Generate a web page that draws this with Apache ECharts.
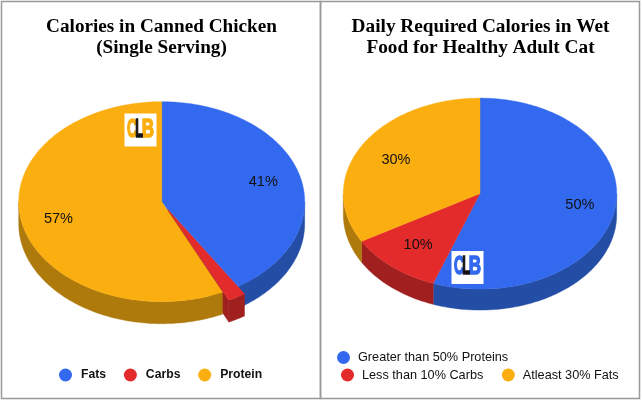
<!DOCTYPE html>
<html>
<head>
<meta charset="utf-8">
<style>
  html, body { margin: 0; padding: 0; background: #fff; }
  #chart { width: 643px; height: 400px; }
</style>
<script src="https://cdn.jsdelivr.net/npm/echarts@6/dist/echarts.min.js"></script>
</head>
<body>
<div id="chart"></div>
<script>
// chart values
var leftCategories = ["Fats", "Carbs", "Protein"];
var leftValues = [41, 2, 57];
var rightCategories = ["Greater than 50% Proteins", "Less than 10% Carbs", "Atleast 30% Fats"];
var rightValues = [50, 10, 30];

// colours, same order for both pies
var topColors = ["#3369ee", "#e42b2b", "#fbae0f"];
var sideColors = ["#244ea6", "#a01f1f", "#ad7a0b"];

// pie geometry on the page
var leftPie = { cx: 161.7, cy: 201.7, rx: 143, ry: 100, depth: 22, explode: [0, 0.09, 0], labelRx: 0.74, labelRy: 0.74, labelDx: 0, labelDy: 0.8 };
var rightPie = { cx: 480, cy: 193.6, rx: 136.7, ry: 95.5, depth: 21, explode: [0, 0, 0], labelRx: 0.727, labelRy: 0.7, labelDx: 2, labelDy: 0 };

function total(values) {
  return values.reduce(function (a, b) { return a + b; }, 0);
}

// angle is clockwise from 12 o'clock, in degrees
function ellipsePoint(pie, deg, dx, dy, down) {
  var a = deg * Math.PI / 180;
  return [pie.cx + dx + pie.rx * Math.sin(a), pie.cy + dy - pie.ry * Math.cos(a) + (down || 0)];
}

function arcPoints(pie, from, to, dx, dy, down) {
  var pts = [];
  var steps = Math.max(2, Math.ceil(to - from));
  for (var i = 0; i <= steps; i++) {
    pts.push(ellipsePoint(pie, from + (to - from) * i / steps, dx, dy, down));
  }
  return pts;
}

function poly(points, color) {
  return {
    type: "polygon",
    shape: { points: points },
    style: { fill: color, stroke: color, lineWidth: 0.4 },
    silent: true
  };
}

function sliceSeries(pie, categories, values, idx) {
  var sum = total(values);
  var before = 0;
  for (var i = 0; i < idx; i++) before += values[i];

  return {
    type: "custom",
    name: categories[idx],
    coordinateSystem: "none",
    itemStyle: { color: topColors[idx] },
    data: [values[idx]],
    renderItem: function (params, api) {
      var value = api.value(0);
      var start = before / sum * 360;
      var end = start + value / sum * 360;
      var mid = (start + end) / 2;
      var midRad = mid * Math.PI / 180;
      var k = pie.explode[idx];
      var dx = pie.rx * Math.sin(midRad) * k;
      var dy = -pie.ry * Math.cos(midRad) * k;
      var children = [];

      // exploded slice leaves a sliver at the hub, fill it with the slice before
      if (k > 0) {
        children.push(poly([[pie.cx, pie.cy]].concat(arcPoints(pie, start, end, 0, 0)), topColors[idx - 1]));
        var c0 = [pie.cx + dx, pie.cy + dy];
        var c1 = ellipsePoint(pie, end, dx, dy);
        children.push(poly([c0, c1, [c1[0], c1[1] + pie.depth], [c0[0], c0[1] + pie.depth]], sideColors[idx]));
      }

      // only the front half of the rim shows
      var wallFrom = Math.max(start, 90);
      var wallTo = Math.min(end, 270);
      if (wallTo > wallFrom) {
        var upper = arcPoints(pie, wallFrom, wallTo, dx, dy);
        var lower = arcPoints(pie, wallFrom, wallTo, dx, dy, pie.depth).reverse();
        children.push(poly(upper.concat(lower), sideColors[idx]));
      }

      children.push(poly([[pie.cx + dx, pie.cy + dy]].concat(arcPoints(pie, start, end, dx, dy)), topColors[idx]));

      // the tiny slice has no label in the picture
      if (value / sum > 0.05) {
        children.push({
          type: "text",
          x: pie.cx + pie.labelDx + pie.rx * pie.labelRx * Math.sin(midRad),
          y: pie.cy + pie.labelDy - pie.ry * pie.labelRy * Math.cos(midRad),
          silent: true,
          style: {
            text: value + "%",
            fontFamily: "Liberation Sans",
            fontSize: 14.5,
            fill: "#111",
            align: "center",
            verticalAlign: "middle"
          }
        });
      }
      return { type: "group", children: children };
    }
  };
}

function logo(x, y, color) {
  function letter(ch, lx, sx, fill, z) {
    return {
      type: "text",
      z: z,
      x: x + lx,
      y: y + 16.5,
      scaleX: sx,
      style: {
        text: ch,
        fontFamily: "Liberation Sans",
        fontSize: 25,
        fontWeight: "bold",
        fill: fill,
        stroke: fill,
        lineWidth: 1.6,
        align: "center",
        verticalAlign: "middle"
      }
    };
  }
  return [
    { type: "rect", z: 10, shape: { x: x, y: y, width: 32, height: 33 }, style: { fill: "#fff" } },
    letter("C", 7.5, 0.56, color, 11),
    letter("B", 23.5, 0.68, color, 11),
    letter("L", 14.5, 0.5, "#111", 12)
  ];
}

function legend(names, left, top, bold, gap, pad) {
  return {
    data: names,
    left: left,
    top: top,
    orient: "horizontal",
    padding: 0,
    icon: "circle",
    itemWidth: 13,
    itemHeight: 13,
    itemGap: gap,
    selectedMode: false,
    textStyle: {
      fontFamily: "Liberation Sans",
      fontSize: bold ? 12.2 : 12.7,
      fontWeight: bold ? "bold" : "normal",
      color: "#111",
      padding: [0, 0, 0, pad]
    }
  };
}

function title(text, x, size) {
  return {
    text: text,
    left: x,
    top: 17,
    padding: 0,
    textAlign: "center",
    textStyle: {
      fontFamily: "Liberation Serif",
      fontSize: size,
      fontWeight: "bold",
      color: "#000",
      lineHeight: 20.5
    }
  };
}

var series = [];
[0, 1, 2].forEach(function (i) { series.push(sliceSeries(leftPie, leftCategories, leftValues, i)); });
[0, 1, 2].forEach(function (i) { series.push(sliceSeries(rightPie, rightCategories, rightValues, i)); });

var myChart = echarts.init(document.getElementById("chart"));
myChart.setOption({
  backgroundColor: "#fff",
  animation: false,
  title: [
    title("Calories in Canned Chicken\n(Single Serving)", 161.5, 19.2),
    title("Daily Required Calories in Wet\nFood for Healthy Adult Cat", 480.5, 19.3)
  ],
  legend: [
    legend(leftCategories, 59, 368.5, true, 17.8, 4),
    legend([rightCategories[0]], 337, 351, false, 18, 3),
    legend(rightCategories.slice(1), 341, 368.5, false, 18.5, 3)
  ],
  graphic: [
    { type: "rect", z: 9, shape: { x: 1.5, y: 1.5, width: 319, height: 397 }, style: { fill: "none", stroke: "#999", lineWidth: 1.5 } },
    { type: "rect", z: 9, shape: { x: 320.5, y: 1.5, width: 319, height: 397 }, style: { fill: "none", stroke: "#999", lineWidth: 1.5 } },
    { type: "group", children: logo(124.5, 113.5, "#fbae0f") },
    { type: "group", children: logo(451.5, 251, "#3369ee") }
  ],
  series: series
});
</script>
</body>
</html>
